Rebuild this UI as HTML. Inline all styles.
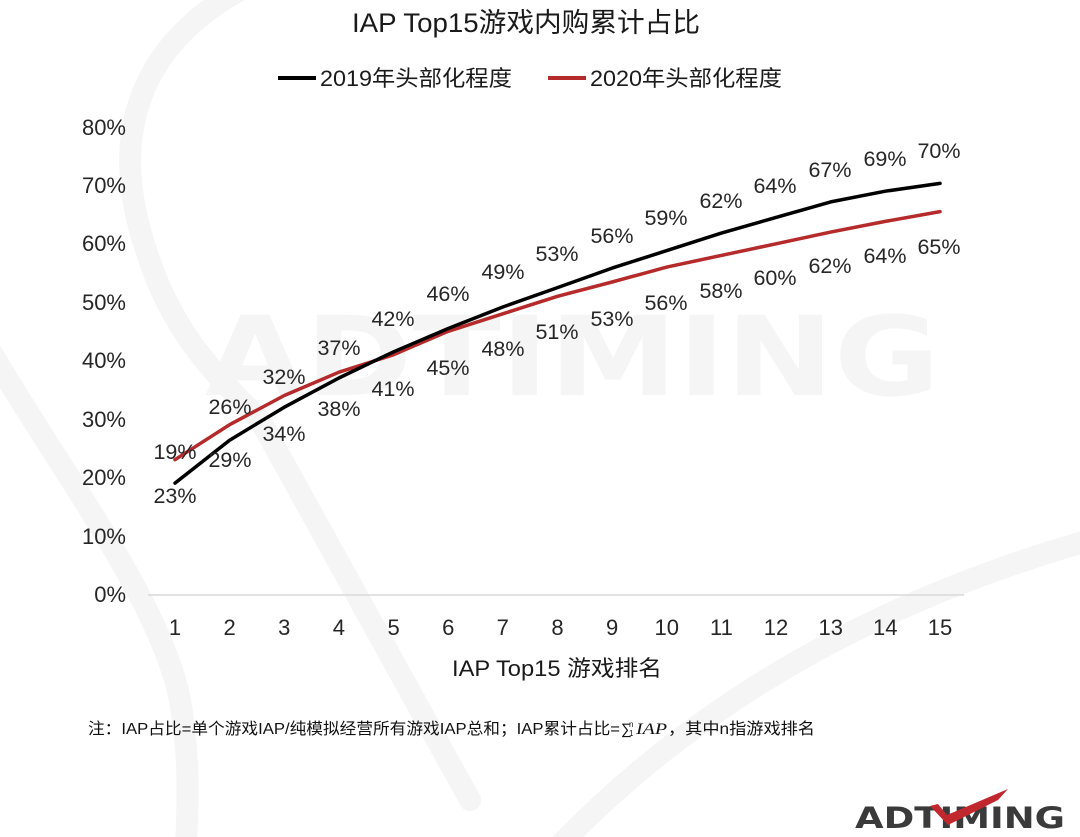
<!DOCTYPE html>
<html><head><meta charset="utf-8"><style>
html,body{margin:0;padding:0;background:#fff;}
svg{display:block;}
text{font-family:"Liberation Sans","Noto Sans CJK SC",sans-serif;}
</style></head><body>
<svg width="1080" height="837" viewBox="0 0 1080 837" xmlns="http://www.w3.org/2000/svg">
<rect width="1080" height="837" fill="#fff"/>
<!-- watermark -->
<g fill="none" stroke="#f5f5f5" stroke-width="22" stroke-linecap="round">
<path d="M240,-10 C150,40 110,120 140,230 C165,320 200,360 260,420"/>
<path d="M-10,350 C60,470 160,600 180,700 C190,760 188,800 186,845"/>
<path d="M560,845 C700,700 880,600 1090,540"/>
<path d="M260,420 L470,800"/>
</g>
<text x="205" y="395" font-size="110" font-weight="bold" fill="#f5f5f5" textLength="735" lengthAdjust="spacingAndGlyphs" style="font-family:'DejaVu Sans',sans-serif">ADTIMING</text>

<!-- title -->
<text x="352" y="32" font-size="27" fill="#1a1a1a" textLength="348" lengthAdjust="spacingAndGlyphs">IAP Top15游戏内购累计占比</text>
<!-- legend -->
<line x1="278" y1="78" x2="316" y2="78" stroke="#000" stroke-width="4"/>
<text x="320" y="86" font-size="22" fill="#1a1a1a" textLength="192" lengthAdjust="spacingAndGlyphs">2019年头部化程度</text>
<line x1="548" y1="78" x2="586" y2="78" stroke="#b52a2a" stroke-width="4"/>
<text x="590" y="86" font-size="22" fill="#1a1a1a" textLength="192" lengthAdjust="spacingAndGlyphs">2020年头部化程度</text>

<!-- y axis labels -->
<g font-size="22" fill="#262626" text-anchor="end">
<text x="126" y="135">80%</text>
<text x="126" y="193">70%</text>
<text x="126" y="251">60%</text>
<text x="126" y="310">50%</text>
<text x="126" y="368">40%</text>
<text x="126" y="427">30%</text>
<text x="126" y="485">20%</text>
<text x="126" y="544">10%</text>
<text x="126" y="602">0%</text>
</g>
<!-- axis line -->
<line x1="148" y1="595" x2="964" y2="595" stroke="#d9d9d9" stroke-width="1.5"/>
<!-- x labels -->
<g font-size="22" fill="#262626" text-anchor="middle">
<text x="175" y="635">1</text>
<text x="229.6" y="635">2</text>
<text x="284.3" y="635">3</text>
<text x="338.9" y="635">4</text>
<text x="393.6" y="635">5</text>
<text x="448.2" y="635">6</text>
<text x="502.8" y="635">7</text>
<text x="557.5" y="635">8</text>
<text x="612.1" y="635">9</text>
<text x="666.8" y="635">10</text>
<text x="721.4" y="635">11</text>
<text x="776" y="635">12</text>
<text x="830.7" y="635">13</text>
<text x="885.3" y="635">14</text>
<text x="940" y="635">15</text>
</g>
<text x="452" y="676" font-size="22" fill="#1a1a1a" textLength="210" lengthAdjust="spacingAndGlyphs">IAP Top15 游戏排名</text>

<!-- series -->
<polyline fill="none" stroke="#b52a2a" stroke-width="3.5" stroke-linejoin="round" stroke-linecap="round"
points="175,459.7 229.6,424.7 284.3,395.5 338.9,372.2 393.6,354.7 448.2,331.3 502.8,313.8 557.5,296.3 612.1,282 666.8,267.1 721.4,255.4 776,243.8 830.7,232.1 885.3,221.4 940,211.6"/>
<polyline fill="none" stroke="#000" stroke-width="3.5" stroke-linejoin="round" stroke-linecap="round"
points="175,483.1 229.6,440.2 284.3,407.2 338.9,378 393.6,351.8 448.2,328.5 502.8,307 557.5,287.6 612.1,268.1 666.8,250.6 721.4,233.1 776,217.4 830.7,201.9 885.3,191.2 940,183.4"/>

<!-- data labels -->
<g font-size="21.5" fill="#262626" text-anchor="middle">
<text x="175" y="459">19%</text>
<text x="230" y="414">26%</text>
<text x="284" y="384">32%</text>
<text x="339" y="355">37%</text>
<text x="393" y="326">42%</text>
<text x="448" y="301">46%</text>
<text x="503" y="279">49%</text>
<text x="557" y="261">53%</text>
<text x="612" y="243">56%</text>
<text x="666" y="225">59%</text>
<text x="721" y="208">62%</text>
<text x="775" y="193">64%</text>
<text x="830" y="177">67%</text>
<text x="885" y="166">69%</text>
<text x="939" y="158">70%</text>

<text x="175" y="503">23%</text>
<text x="230" y="467">29%</text>
<text x="284" y="441">34%</text>
<text x="339" y="416">38%</text>
<text x="393" y="396">41%</text>
<text x="448" y="375">45%</text>
<text x="503" y="356">48%</text>
<text x="557" y="339">51%</text>
<text x="612" y="326">53%</text>
<text x="666" y="310">56%</text>
<text x="721" y="298">58%</text>
<text x="775" y="285">60%</text>
<text x="830" y="273">62%</text>
<text x="885" y="263">64%</text>
<text x="939" y="254">65%</text>
</g>

<!-- footnote -->
<g fill="#111" font-size="16">
<text x="88" y="734" textLength="532" lengthAdjust="spacingAndGlyphs">注：IAP占比=单个游戏IAP/纯模拟经营所有游戏IAP总和；IAP累计占比=</text>
<text x="621" y="734" font-size="15">∑</text>
<text x="629" y="727" font-size="8">n</text>
<text x="629" y="736" font-size="8">1</text>
<text x="636" y="734" font-size="16" font-style="italic" textLength="31" lengthAdjust="spacingAndGlyphs" style="font-family:'Liberation Serif',serif">IAP</text>
<text x="668" y="734" textLength="147" lengthAdjust="spacingAndGlyphs">，其中n指游戏排名</text>
</g>

<!-- logo -->
<text x="855" y="828" font-size="29" font-weight="bold" fill="#3a3a3a" textLength="210" lengthAdjust="spacingAndGlyphs" style="font-family:'DejaVu Sans',sans-serif">ADTIMING</text>
<polygon points="930,806 938,804 947,815 1008,789 998,800 948,825" fill="#c0282d"/>
</svg>
</body></html>
